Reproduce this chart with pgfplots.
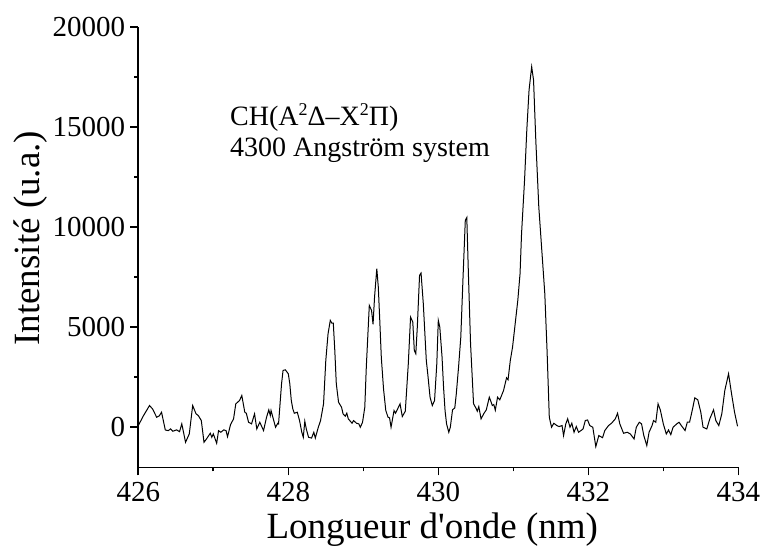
\documentclass[border=0pt]{standalone}
\usepackage{fontspec}
\setmainfont{Liberation Serif}
\usepackage{pgfplots}
\usepackage{pgfplotstable}
\pgfplotsset{compat=1.18}
\pgfplotstableread{
x y
426.00 85
426.07 585
426.15 1085
426.19 915
426.245 500
426.28 570
426.31 750
426.36 -135
426.40 -170
426.43 -80
426.46 -200
426.51 -130
426.55 -220
426.58 170
426.63 -750
426.68 -330
426.725 1085
426.77 670
426.80 585
426.84 335
426.876 -750
426.91 -580
426.96 -300
426.98 -500
427.00 -330
427.045 -800
427.07 -170
427.10 -250
427.14 -130
427.17 -170
427.19 -470
427.23 135
427.27 415
427.30 1170
427.35 1335
427.38 1585
427.42 750
427.44 700
427.47 250
427.51 170
427.55 670
427.58 -85
427.62 250
427.67 -165
427.71 500
427.74 870
427.76 585
427.77 835
427.83 0
427.86 200
427.87 170
427.91 2170
427.93 2835
427.96 2870
428.00 2670
428.02 2170
428.04 1335
428.06 920
428.08 700
428.12 750
428.15 335
428.18 -250
428.20 -500
428.22 300
428.24 -85
428.27 -500
428.31 -540
428.34 -250
428.36 -540
428.40 0
428.43 335
428.47 1170
428.50 3335
428.53 4670
428.56 5335
428.58 5200
428.60 5200
428.62 3835
428.64 2170
428.67 1250
428.71 1000
428.73 670
428.76 550
428.78 700
428.80 420
428.85 200
428.87 335
428.91 200
428.94 170
428.96 0
428.99 250
429.02 1000
429.04 3000
429.08 6085
429.11 5835
429.13 5135
429.15 6500
429.18 7920
429.20 7000
429.22 5300
429.24 3500
429.27 1900
429.30 835
429.33 500
429.35 470
429.37 0
429.41 835
429.43 700
429.49 1170
429.52 535
429.56 800
429.60 3170
429.63 5500
429.66 5250
429.68 3835
429.70 3670
429.72 5000
429.75 7585
429.77 7700
429.80 6170
429.84 3335
429.86 2640
429.89 1500
429.92 1085
429.95 1335
429.98 3170
430.00 5335
430.02 5000
430.05 3500
430.07 2000
430.09 835
430.11 170
430.14 -250
430.16 0
430.19 870
430.22 970
430.24 1670
430.27 3000
430.30 4500
430.33 7500
430.36 10335
430.38 10470
430.40 7835
430.43 4170
430.47 1170
430.50 970
430.52 800
430.54 1030
430.57 420
430.61 700
430.64 870
430.68 1500
430.70 1300
430.72 1085
430.74 1135
430.76 850
430.79 1500
430.82 1370
430.87 1835
430.91 2470
430.93 2370
430.96 3335
430.99 4000
431.02 5000
431.06 6335
431.09 7670
431.11 9670
431.15 12335
431.18 14835
431.21 16835
431.245 18000
431.27 17335
431.30 14335
431.34 11000
431.38 8835
431.42 6670
431.45 3835
431.48 500
431.51 0
431.54 200
431.58 85
431.61 35
431.65 85
431.67 -415
431.70 170
431.725 420
431.756 0
431.78 200
431.81 -250
431.84 35
431.87 -250
431.90 -170
431.93 -85
431.96 335
431.99 365
432.02 85
432.06 0
432.10 -965
432.14 -415
432.19 -520
432.22 -165
432.27 85
432.31 200
432.36 420
432.39 700
432.42 170
432.47 -300
432.52 -250
432.56 -335
432.61 -585
432.64 0
432.68 250
432.71 170
432.74 -415
432.78 -915
432.81 -250
432.85 85
432.87 335
432.90 250
432.93 1170
432.96 870
433.00 170
433.04 -335
433.07 -135
433.10 -370
433.13 0
433.18 170
433.21 250
433.24 85
433.29 -165
433.32 250
433.35 250
433.39 915
433.42 1470
433.46 1370
433.50 750
433.53 0
433.58 -85
433.62 420
433.67 870
433.70 335
433.74 85
433.78 670
433.82 1835
433.87 2670
433.91 1670
433.95 750
433.99 50
}\spectrum
\begin{document}
\begin{tikzpicture}
\path[use as bounding box] (-69.15pt,-43.35pt) rectangle (310.85pt,233.65pt);
\begin{axis}[
  at={(0,0)}, anchor=south west,
  width=300pt, height=220.3pt, scale only axis,
  xmin=426, xmax=434, ymin=-2000, ymax=20000,
  axis x line=bottom, axis y line=left,
  axis line style={-, line width=0.8pt},
  xtick={426,428,...,434}, ytick={0,5000,...,20000},
  minor x tick num=1, minor y tick num=1,
  tick align=outside, major tick length=4pt, minor tick length=2pt,
  tick style={line width=0.8pt, black},
  scaled y ticks=false,
  /pgf/number format/1000 sep={},
  /pgf/number format/assume math mode=true,
  ticklabel style={font=\fontsize{14.5}{17}\selectfont},
  yticklabel style={xshift=1pt},
  xlabel={Longueur d\textquotesingle onde (nm)}, ylabel={Intensité (u.a.)},
  every axis x label/.style={at={(axis description cs:0.49,-0.142)}, anchor=center, font=\fontsize{18.5}{22}\selectfont},
  every axis y label/.style={at={(axis description cs:-0.18,0.52)}, rotate=90, anchor=center, font=\fontsize{18.5}{22}\selectfont},
  clip=false,
]
\addplot[black, line width=0.5pt, mark=none] table[x=x, y=y] {\spectrum};
\node[anchor=base west, inner sep=0pt, font=\fontsize{14}{16}\selectfont] at (axis cs:427.22,15085) {CH(A\raisebox{0.72ex}{\fontsize{9}{10}\selectfont 2}Δ–X\raisebox{0.72ex}{\fontsize{9}{10}\selectfont 2}Π)};
\node[anchor=base west, inner sep=0pt, font=\fontsize{14}{16}\selectfont] at (axis cs:427.22,13535) {4300 Angström system};
\end{axis}
\end{tikzpicture}
\end{document}
